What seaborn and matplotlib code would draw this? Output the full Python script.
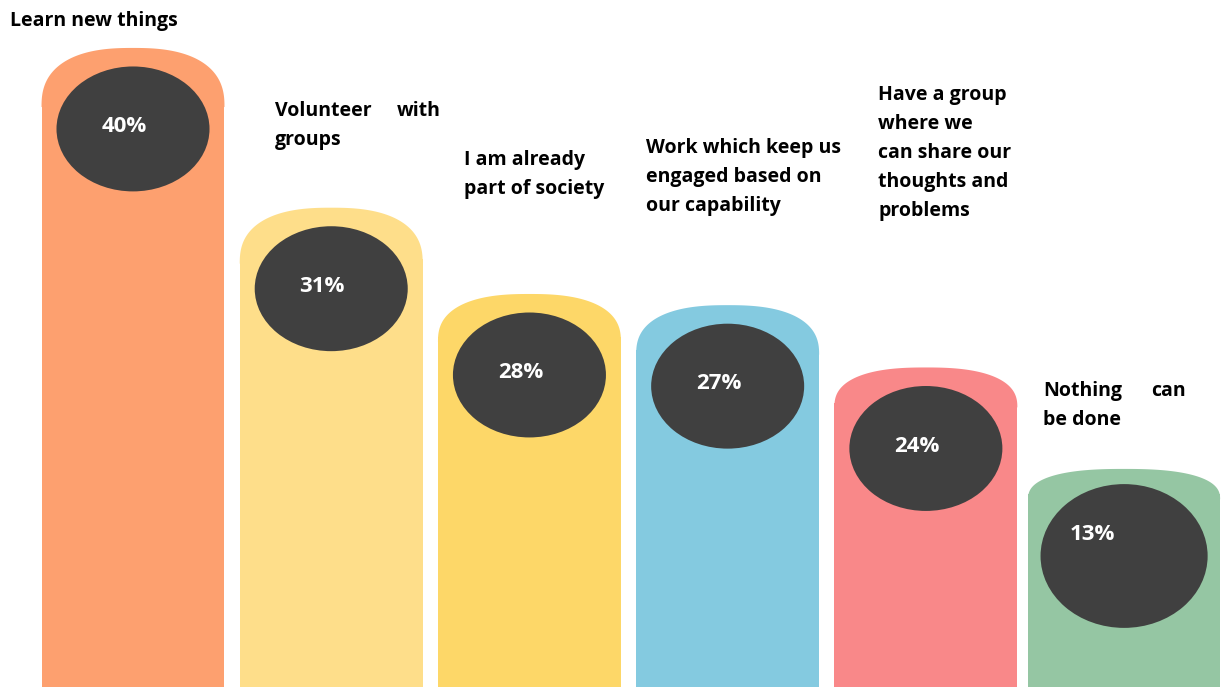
import numpy as np
import pandas as pd
import matplotlib
matplotlib.use("Agg")
import matplotlib.pyplot as plt
import seaborn as sns
from matplotlib.patches import Ellipse, Polygon

# --- data ---
categories = [
    "Learn new things",
    "Volunteer with\ngroups",
    "I am already\npart of society",
    "Work which keep us\nengaged based on\nour capability",
    "Have a group\nwhere we\ncan share our\nthoughts and\nproblems",
    "Nothing can\nbe done",
]
values = [40, 31, 28, 27, 24, 13]
# drawn column heights (the artwork is not to scale, so they are read separately)
bar_heights = [40.0, 30.0, 24.6, 23.9, 20.0, 13.65]
cap_depths = [3.4, 3.2, 2.7, 2.8, 2.2, 1.6]
colors = ["#FDA06F", "#FEDE8A", "#FDD768", "#84CAE0", "#F98889", "#95C6A3"]
disc_color = "#404040"

W, H = 1223, 687
LINE_STEP = 29  # px between caption baselines


def fig_xy(px, py):
    return px / W, 1 - py / H


def cap_shape(xc, y0, half_w, depth, n=2.5):
    t = np.linspace(0, np.pi, 120)
    c, s = np.cos(t), np.sin(t)
    xs = xc + half_w * np.sign(c) * np.abs(c) ** (2 / n)
    ys = y0 + depth * np.abs(s) ** (2 / n)
    return np.column_stack([xs, ys])


sns.set_style("white")
plt.rcParams['font.family'] = ['Open Sans', 'DejaVu Sans']

fig = plt.figure(figsize=(12.23, 6.87), dpi=100)
ax = fig.add_axes([0, 0, 1, 1])

shoulders = np.array(bar_heights) - np.array(cap_depths)
df = pd.DataFrame({"category": categories, "shoulder": shoulders})
bar_w = 0.923
sns.barplot(data=df, x="category", y="shoulder", hue="category", palette=colors,
            saturation=1, width=bar_w, legend=False, ax=ax)

# last column is drawn a little wider in the original
widths = []
for i, cont in enumerate(ax.containers):
    for p in cont:
        w = 0.969 if i == 5 else bar_w
        p.set_width(w)
        p.set_x(i - w / 2)
        p.set_linewidth(0)
        widths.append(w)

ax.set_xlim(-0.671, 5.499)
ax.set_ylim(0, 43.0)
ax.axis('off')

for i, (h, d) in enumerate(zip(bar_heights, cap_depths)):
    y0 = h - d
    ax.add_patch(Polygon(cap_shape(i, y0 - 0.3, widths[i] / 2, d + 0.3),
                         closed=True, facecolor=colors[i], edgecolor='none'))
    # dark disc with the percentage
    if i == 5:
        dy, dw, dh, tx, ty = 5.45, 0.843, 9.0, -0.159, 1.0
    else:
        dy, dw, dh, tx, ty = 5.07, 0.772, 7.82, -0.045, -0.19
    cy = h - dy
    ax.add_patch(Ellipse((i, cy), dw, dh, facecolor=disc_color, edgecolor='none'))
    ax.text(i + tx, cy + ty, f"{values[i]}%", color="white", fontsize=16,
            fontweight="bold", ha="center", va="baseline")

# category captions (left edge, first baseline, right edge for justified lines)
label_pos = [(10, 26, None), (275, 116, 441), (464, 165, None),
             (646, 153, None), (878, 100, None), (1043, 396, 1186)]
for text, (lx, ly, rx) in zip(categories, label_pos):
    lines = text.split("\n")
    if rx is not None:
        words = lines[0].split(" ")
        lines[0] = words[0]
        fig.text(*fig_xy(rx, ly), words[-1], fontsize=14, fontweight="bold",
                 color="black", ha="right", va="baseline")
    for k, line in enumerate(lines):
        fig.text(*fig_xy(lx, ly + k * LINE_STEP), line, fontsize=14,
                 fontweight="bold", color="black", ha="left", va="baseline")

plt.savefig("out.png", dpi=100)
